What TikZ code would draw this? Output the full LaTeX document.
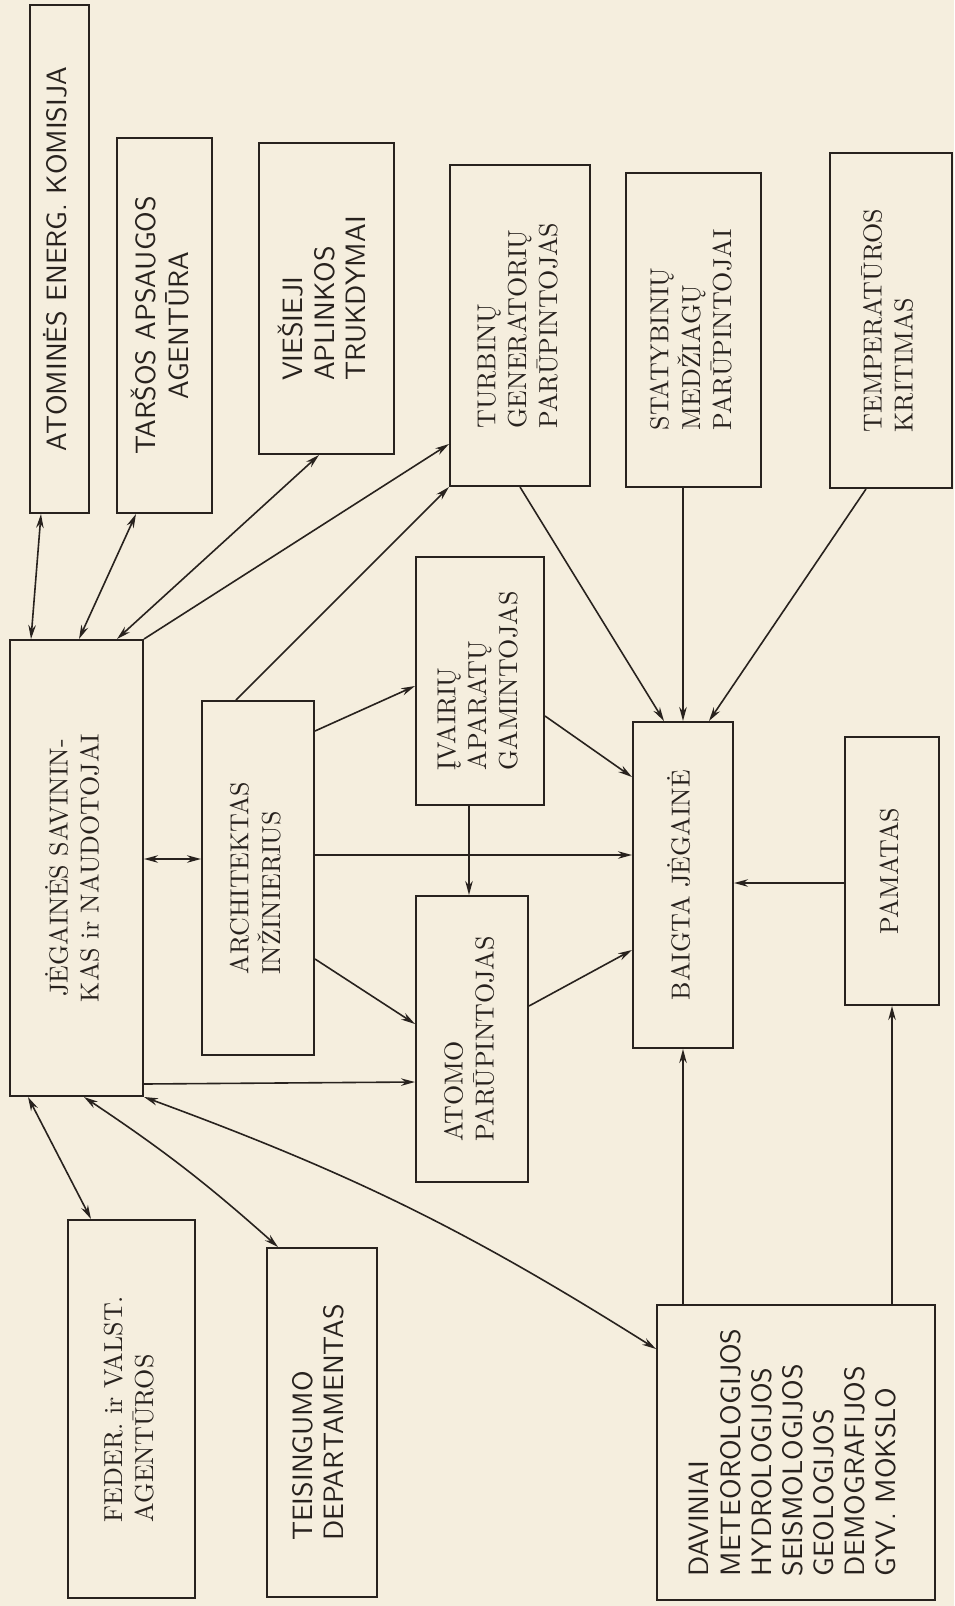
\documentclass[tikz,border=0pt]{standalone}
\usepackage{fontspec}
\usepackage{graphicx}
\usetikzlibrary{arrows.meta}
\definecolor{paper}{RGB}{245,238,222}
\definecolor{ink}{RGB}{40,34,30}
\newcommand{\txtscale}{2.6}
\newcommand{\vtext}[2][l]{\rotatebox{90}{\scalebox{\txtscale}{\begin{tabular}{@{}#1@{}}#2\end{tabular}}}}
\begin{document}
\begin{tikzpicture}[x=1pt, y=-1pt,
        box/.style={draw=ink, line width=2pt, fill=paper, inner sep=0pt, text=ink,
                    font=\fontsize{10}{11.9}\selectfont\addfontfeatures{FakeBold=0.5}\renewcommand{\txtscale}{2.6}},
        sbox/.style={box, font=\sffamily\fontsize{10}{11.1}\selectfont\addfontfeatures{FakeBold=0.4}\renewcommand{\txtscale}{2.8}},
        >={Stealth[length=14pt,width=7.5pt]},
        arr/.style={->, line width=1.6pt, draw=ink},
        both/.style={arr, <->}
    ]
    \fill[paper] (0,0) rectangle (954,1606);
    \useasboundingbox (0,0) rectangle (954,1606);

    % upper row
    \node[sbox, minimum width=59pt,  minimum height=508pt] (atom)     at (59.5,259)   {\vtext{ATOMINĖS ENERG. KOMISIJA}};
    \node[sbox, minimum width=95pt,  minimum height=375pt] (tarsos)   at (164.5,325.5) {\vtext[c]{TARŠOS APSAUGOS\\AGENTŪRA}};
    \node[sbox, minimum width=135pt, minimum height=311pt] (viesieji) at (326.5,298.5) {\vtext{VIEŠIEJI\\APLINKOS\\TRUKDYMAI}};
    \node[box,  minimum width=140pt, minimum height=321pt] (turbinu)  at (520,325.5)   {\vtext{TURBINŲ\\GENERATORIŲ\\PARŪPINTOJAS}};
    \node[box,  minimum width=135pt, minimum height=314pt] (statyb)   at (693.5,330)   {\vtext{STATYBINIŲ\\MEDŽIAGŲ\\PARŪPINTOJAI}};
    \node[box,  minimum width=122pt, minimum height=335pt] (temper)   at (891,320.5)   {\vtext{TEMPERATŪROS\\KRITIMAS}};

    % middle
    \node[box, minimum width=133pt, minimum height=456pt] (jeg)     at (76.5,868) {\vtext[c]{JĖGAINĖS SAVININ-\\KAS ir NAUDOTOJAI}};
    \node[box, minimum width=112pt, minimum height=354pt] (arch)    at (258,878)  {\vtext{ARCHITEKTAS\\INŽINIERIUS}};
    \node[box, minimum width=128pt, minimum height=248pt] (ivairiu) at (480,681)  {\vtext{ĮVAIRIŲ\\APARATŲ\\GAMINTOJAS}};
    \node[box, minimum width=112pt, minimum height=286pt] (atomo)   at (472,1039) {\vtext{ATOMO\\PARŪPINTOJAS}};
    \node[box, minimum width=100pt, minimum height=326pt] (baigta)  at (683,885)  {\vtext{BAIGTA JĖGAINĖ}};
    \node[box, minimum width=94pt,  minimum height=268pt] (pamatas) at (892,871)  {\vtext{PAMATAS}};

    % lower row
    \node[box,  minimum width=127pt, minimum height=378pt] (feder) at (131.5,1409)  {\vtext{FEDER. ir VALST.\\AGENTŪROS}};
    \node[sbox, minimum width=110pt, minimum height=349pt] (teis)  at (322,1422.5)  {\vtext{TEISINGUMO\\DEPARTAMENTAS}};
    \node[sbox, minimum width=278pt, minimum height=295pt] (davin) at (796,1452.5)  {\vtext{DAVINIAI\\METEOROLOGIJOS\\HYDROLOGIJOS\\SEISMOLOGIJOS\\GEOLOGIJOS\\DEMOGRAFIJOS\\GYV. MOKSLO}};

    % owner links
    \draw[both] ([xshift=12pt]atom.south west) -- ([xshift=22pt]jeg.north west);
    \draw[both] ([xshift=20pt]tarsos.south west) -- ([xshift=70pt]jeg.north west);
    \draw[both] ([xshift=61pt]viesieji.south west) -- ([xshift=108pt]jeg.north west);
    \draw[arr]  (jeg.north east) -- ([yshift=43pt]turbinu.south west);
    \draw[both] ([yshift=9pt]jeg.east) -- ([yshift=19pt]arch.west);
    \draw[arr]  ([yshift=13pt]jeg.south east) -- ([yshift=-187pt]atomo.north west);
    \draw[both] ([xshift=19pt]jeg.south west) -- ([xshift=24pt]feder.north west);
    \draw[both] ([xshift=75pt]jeg.south west) to[bend left=4] ([xshift=12pt]teis.north west);
    \draw[both] (jeg.south east) to[bend left=6] ([yshift=-45pt]davin.north west);

    % architect links
    \draw[arr] ([xshift=35pt]arch.north west) -- (turbinu.south west);
    \draw[arr] ([yshift=-31pt]arch.north east) -- ([yshift=-130pt]ivairiu.north west);
    \draw[arr] ([yshift=23pt]arch.east) -- ([yshift=30pt]baigta.west);
    \draw[arr] ([yshift=97pt]arch.south east) -- ([yshift=-129pt]atomo.north west);

    % into the plant
    \draw[arr] ([xshift=54pt]ivairiu.south west) -- ([xshift=54pt]atomo.north west);
    \draw[arr] ([yshift=-160pt]ivairiu.north east) -- ([yshift=-56pt]baigta.north west);
    \draw[arr] ([yshift=-111pt]atomo.north east) -- ([yshift=-229pt]baigta.north west);
    \draw[arr] (turbinu.south) -- ([xshift=32pt]baigta.north west);
    \draw[arr] (statyb.south -| baigta.north) -- (baigta.north);
    \draw[arr] ([xshift=37pt]temper.south west) -- ([xshift=-25pt]baigta.north east);
    \draw[arr] ([yshift=-12pt]pamatas.west) -- ([yshift=-12pt]pamatas.west -| baigta.east);
    \draw[arr] (baigta.south |- davin.north) -- (baigta.south);
    \draw[arr] (pamatas.south |- davin.north) -- (pamatas.south);
\end{tikzpicture}
\end{document}
